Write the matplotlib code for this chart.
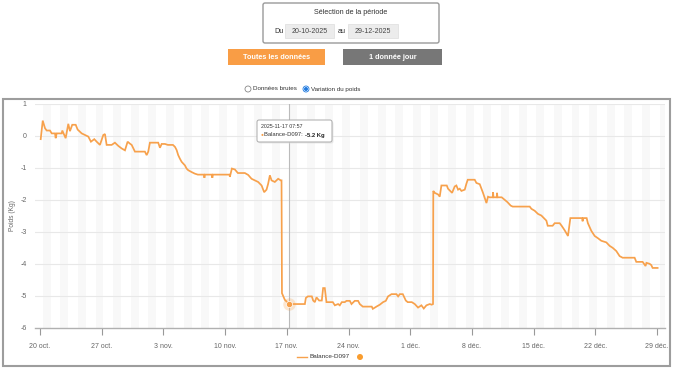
import matplotlib
matplotlib.use("Agg")
import matplotlib.pyplot as plt
from matplotlib.patches import FancyBboxPatch, Rectangle, Circle

# ---------------- data ----------------
days = [0.08, 0.31, 0.57, 0.76, 1.13, 1.33, 1.70, 1.78, 1.89, 2.46, 2.53, 2.91, 3.21, 3.40, 3.66, 4.05,
        4.27, 4.73, 5.10, 5.48, 5.78, 6.16, 6.43, 6.80, 7.18, 7.37, 7.56, 8.13, 8.50, 8.88, 9.26, 9.64,
        9.94, 10.20, 10.40, 10.77, 11.90, 12.10, 12.28, 12.47, 13.41, 13.61, 13.80, 14.17, 14.51, 15.08,
        15.31, 15.50, 15.68, 15.87, 16.07, 16.44, 16.63, 16.81, 17.20, 17.57, 17.91, 18.60, 18.65, 18.72,
        19.50, 19.55, 19.62, 21.50, 21.54, 21.60, 21.77, 22.11, 22.45, 23.24, 23.62, 24.00, 24.38, 24.75,
        25.14, 25.43, 25.70, 25.88, 26.08, 26.27, 26.64, 27.02, 27.32, 27.40, 27.45, 27.78, 28.15, 28.27,
        30.05, 30.16, 30.39, 30.84, 30.99, 31.18, 31.37, 31.67, 31.97, 32.12, 32.31, 32.50, 33.22, 33.45,
        33.82, 34.01, 34.24, 34.58, 34.77, 35.15, 35.34, 35.71, 36.09, 36.28, 36.62, 37.64, 37.76, 38.17,
        38.55, 38.92, 39.23, 39.49, 39.88, 40.44, 40.63, 40.82, 41.16, 41.50, 41.72, 42.18, 42.52, 42.89,
        43.27, 43.54, 43.84, 44.22, 44.44, 44.59, 44.62, 44.78, 45.16, 45.35, 45.54, 46.15, 46.29, 46.75,
        47.05, 47.24, 47.43, 47.62, 47.81, 48.19, 48.38, 48.53, 49.32, 49.51, 49.89, 50.26, 50.65, 50.83,
        51.02, 51.36, 51.40, 51.45, 51.81, 51.85, 51.90, 52.38, 52.72, 53.03, 53.40, 53.63, 55.56, 55.75,
        56.12, 56.50, 56.88, 57.06, 57.45, 57.60, 58.16, 58.39, 58.96, 59.18, 59.52, 59.90, 60.17, 61.50,
        61.56, 61.62, 62.02, 62.16, 62.55, 62.93, 63.30, 63.68, 64.25, 64.63, 64.97, 65.38, 65.76, 66.10,
        67.46, 67.65, 68.37, 68.70, 68.80, 69.16, 69.35, 69.50, 70.07]

weight_var = [-0.10, 0.48, 0.24, 0.17, 0.17, 0.08, 0.08, -0.07, 0.08, 0.08, 0.17, -0.07, 0.38, 0.15, 0.35, 0.35,
              0.20, 0.08, 0.03, -0.02, -0.18, -0.10, -0.18, -0.28, 0.03, 0.06, -0.28, -0.28, -0.21, -0.31, -0.39, -0.45,
              -0.18, -0.24, -0.28, -0.49, -0.49, -0.60, -0.49, -0.21, -0.21, -0.37, -0.25, -0.25, -0.28, -0.28,
              -0.34, -0.44, -0.60, -0.71, -0.81, -0.92, -1.02, -1.07, -1.13, -1.18, -1.21, -1.21, -1.31, -1.21,
              -1.21, -1.31, -1.21, -1.21, -1.28, -1.21, -1.02, -1.05, -1.16, -1.16, -1.22, -1.34, -1.39, -1.44,
              -1.55, -1.76, -1.68, -1.50, -1.23, -1.39, -1.44, -1.34, -1.39, -1.39, -4.92, -5.13, -5.23, -5.26,
              -5.26, -5.07, -5.02, -5.02, -5.15, -5.20, -5.05, -5.15, -5.15, -4.76, -4.76, -5.20, -5.20, -5.30,
              -5.26, -5.30, -5.20, -5.20, -5.16, -5.16, -5.26, -5.16, -5.16, -5.26, -5.34, -5.34, -5.41, -5.34,
              -5.28, -5.20, -5.16, -5.02, -4.95, -4.95, -5.02, -4.95, -4.95, -5.15, -5.20, -5.20, -5.26, -5.37,
              -5.30, -5.40, -5.30, -5.26, -5.28, -5.26, -1.72, -1.78, -1.83, -1.90, -1.55, -1.55, -1.65, -1.78,
              -1.58, -1.55, -1.68, -1.65, -1.72, -1.68, -1.49, -1.37, -1.37, -1.47, -1.51, -1.78, -2.10, -1.90,
              -1.92, -1.92, -1.76, -1.92, -1.92, -1.78, -1.92, -1.92, -2.00, -2.07, -2.18, -2.21, -2.21, -2.28,
              -2.34, -2.44, -2.49, -2.54, -2.65, -2.81, -2.81, -2.73, -2.73, -2.81, -2.95, -3.13, -2.57, -2.57,
              -2.67, -2.57, -2.57, -2.73, -2.97, -3.13, -3.20, -3.28, -3.33, -3.44, -3.50, -3.60, -3.76, -3.81,
              -3.81, -3.94, -3.94, -4.07, -3.97, -4.00, -4.04, -4.13, -4.13]

tick_days = [0, 7, 14, 21, 28, 35, 42, 49, 56, 63, 70]
tick_labels = ["20 oct.", "27 oct.", "3 nov.", "10 nov.", "17 nov.", "24 nov.",
               "1 déc.", "8 déc.", "15 déc.", "22 déc.", "29 déc."]
y_ticks = [-6, -5, -4, -3, -2, -1, 0, 1]

series_name = "Balance-D097"
hover_day = 28.27
hover_value = -5.26
hover_label = "-5.2 Kg"
hover_time = "2025-11-17 07:57"

# ---------------- figure ----------------
plt.rcParams['font.family'] = ['Liberation Sans', 'DejaVu Sans']
W, H = 676, 371
fig = plt.figure(figsize=(W / 100, H / 100), dpi=100)

ORANGE = '#F7A14C'
GRAY_TXT = '#666666'

# background overlay in pixel coordinates
ov = fig.add_axes([0, 0, 1, 1], zorder=0)
ov.set_xlim(0, W)
ov.set_ylim(H, 0)
ov.axis('off')

# period selection box
ov.add_patch(FancyBboxPatch((263, 3), 176, 40, boxstyle="round,pad=0,rounding_size=2",
                            fc='white', ec='#9a9a9a', lw=1.0))
ov.text(351, 12.5, "Sélection de la période", ha='center', va='center', fontsize=5.2, color='#333333')
ov.text(279, 31.5, "Du", ha='center', va='center', fontsize=5.2, color='#333333')
ov.add_patch(Rectangle((285, 24), 49, 14, fc='#ececec', ec='#dddddd', lw=0.5))
ov.text(309.5, 31.5, "20-10-2025", ha='center', va='center', fontsize=5, color='#444444')
ov.text(342, 31.5, "au", ha='center', va='center', fontsize=5.2, color='#333333')
ov.add_patch(Rectangle((348, 24), 50, 14, fc='#ececec', ec='#dddddd', lw=0.5))
ov.text(373, 31.5, "29-12-2025", ha='center', va='center', fontsize=5, color='#444444')

# buttons
ov.add_patch(Rectangle((228, 49), 97, 16, fc='#F99D45', ec='none'))
ov.text(276.5, 57.5, "Toutes les données", ha='center', va='center', fontsize=5.2, color='white',
        fontweight='bold')
ov.add_patch(Rectangle((343, 49), 99, 16, fc='#777777', ec='none'))
ov.text(392.5, 57.5, "1 donnée jour", ha='center', va='center', fontsize=5.2, color='white',
        fontweight='bold')

# radio buttons
ov.add_patch(Circle((248, 89), 3, fc='white', ec='#888888', lw=0.6))
ov.text(253, 89, "Données brutes", ha='left', va='center', fontsize=4.5, color='#333333')
ov.add_patch(Circle((306, 89), 3, fc='white', ec='#1f7ae0', lw=0.6))
ov.add_patch(Circle((306, 89), 2, fc='#1f7ae0', ec='none'))
ov.text(311, 89, "Variation du poids", ha='left', va='center', fontsize=4.5, color='#333333')

# chart panel border
ov.add_patch(Rectangle((3, 99), 667, 267, fc='white', ec='#9d9d9d', lw=1.5))

ov.text(12, 216, "Poids (Kg)", rotation=90, ha='center', va='center', fontsize=4.8, color=GRAY_TXT)

# ---------------- chart ----------------
x0_px, x1_px = 35, 665
y_top, y_bot = 104, 327.7
px_per_day = (657 - 40) / 70.0
xmin = (x0_px - 40) / px_per_day
xmax = (x1_px - 40) / px_per_day
ax = fig.add_axes([x0_px / W, 1 - y_bot / H, (x1_px - x0_px) / W, (y_bot - y_top) / H], zorder=2)
ax.set_facecolor('white')
ax.set_xlim(xmin, xmax)
ax.set_ylim(-6, 1)

# alternating day bands
d = 0
while d < xmax:
    ax.axvspan(d + 0.3, d + 1.2, color='#f8f8f8', lw=0, zorder=0)
    d += 2

for yv in y_ticks:
    if yv != -6:
        ax.axhline(yv, color='#e8e8e8', lw=0.8, zorder=1)

ax.plot(days, weight_var, color=ORANGE, lw=1.25, zorder=3, solid_joinstyle='miter')

# hover crosshair + marker
ax.axvline(hover_day, color='#bbbbbb', lw=0.8, zorder=2)
ax.plot([hover_day], [hover_value], 'o', ms=9, color=ORANGE, alpha=0.25, mec='none', zorder=4)
ax.plot([hover_day], [hover_value], 'o', ms=4.5, color=ORANGE, mec='white', mew=0.5, zorder=5)

for s in ['top', 'right', 'left']:
    ax.spines[s].set_visible(False)
ax.spines['bottom'].set_color('#b0b0b0')
ax.spines['bottom'].set_linewidth(1.0)

ax.set_xticks(tick_days)
ax.set_xticklabels(tick_labels, fontsize=5, color=GRAY_TXT)
ax.set_yticks(y_ticks)
ax.set_yticklabels([str(v) for v in y_ticks], fontsize=5, color=GRAY_TXT)
ax.tick_params(axis='x', length=5, width=0.8, color='#999999', pad=6)
ax.tick_params(axis='y', length=0, pad=6)

# ---------------- tooltip & legend overlay ----------------
top = fig.add_axes([0, 0, 1, 1], zorder=6)
top.set_xlim(0, W)
top.set_ylim(H, 0)
top.axis('off')
top.patch.set_alpha(0)

top.add_patch(FancyBboxPatch((258.5, 121.5), 75, 22, boxstyle="round,pad=0,rounding_size=2",
                             fc='#dddddd', ec='none', alpha=0.6))
top.add_patch(FancyBboxPatch((257, 120), 75, 22, boxstyle="round,pad=0,rounding_size=2",
                             fc='white', ec='#aaaaaa', lw=0.7))
top.text(261, 127, hover_time, ha='left', va='center', fontsize=3.8, color='#333333')
top.text(260.5, 135, "●", ha='left', va='center', fontsize=3.5, color=ORANGE)
t_name = top.text(264.5, 135, series_name + ": ", ha='left', va='center', fontsize=4.2, color='#333333')
fig.canvas.draw()
bb = t_name.get_window_extent()
x_end = top.transData.inverted().transform((bb.x1, bb.y0))[0]
top.text(x_end, 135, hover_label, ha='left', va='center', fontsize=4.2, color='#222222', fontweight='bold')

# legend
top.plot([297, 307], [357, 357], color=ORANGE, lw=1.0)
top.text(310, 357, series_name, ha='left', va='center', fontsize=4.6, color='#333333')
top.add_patch(Circle((360, 357), 3, fc='#F99D2E', ec='none'))

fig.savefig("out.png", dpi=100)
